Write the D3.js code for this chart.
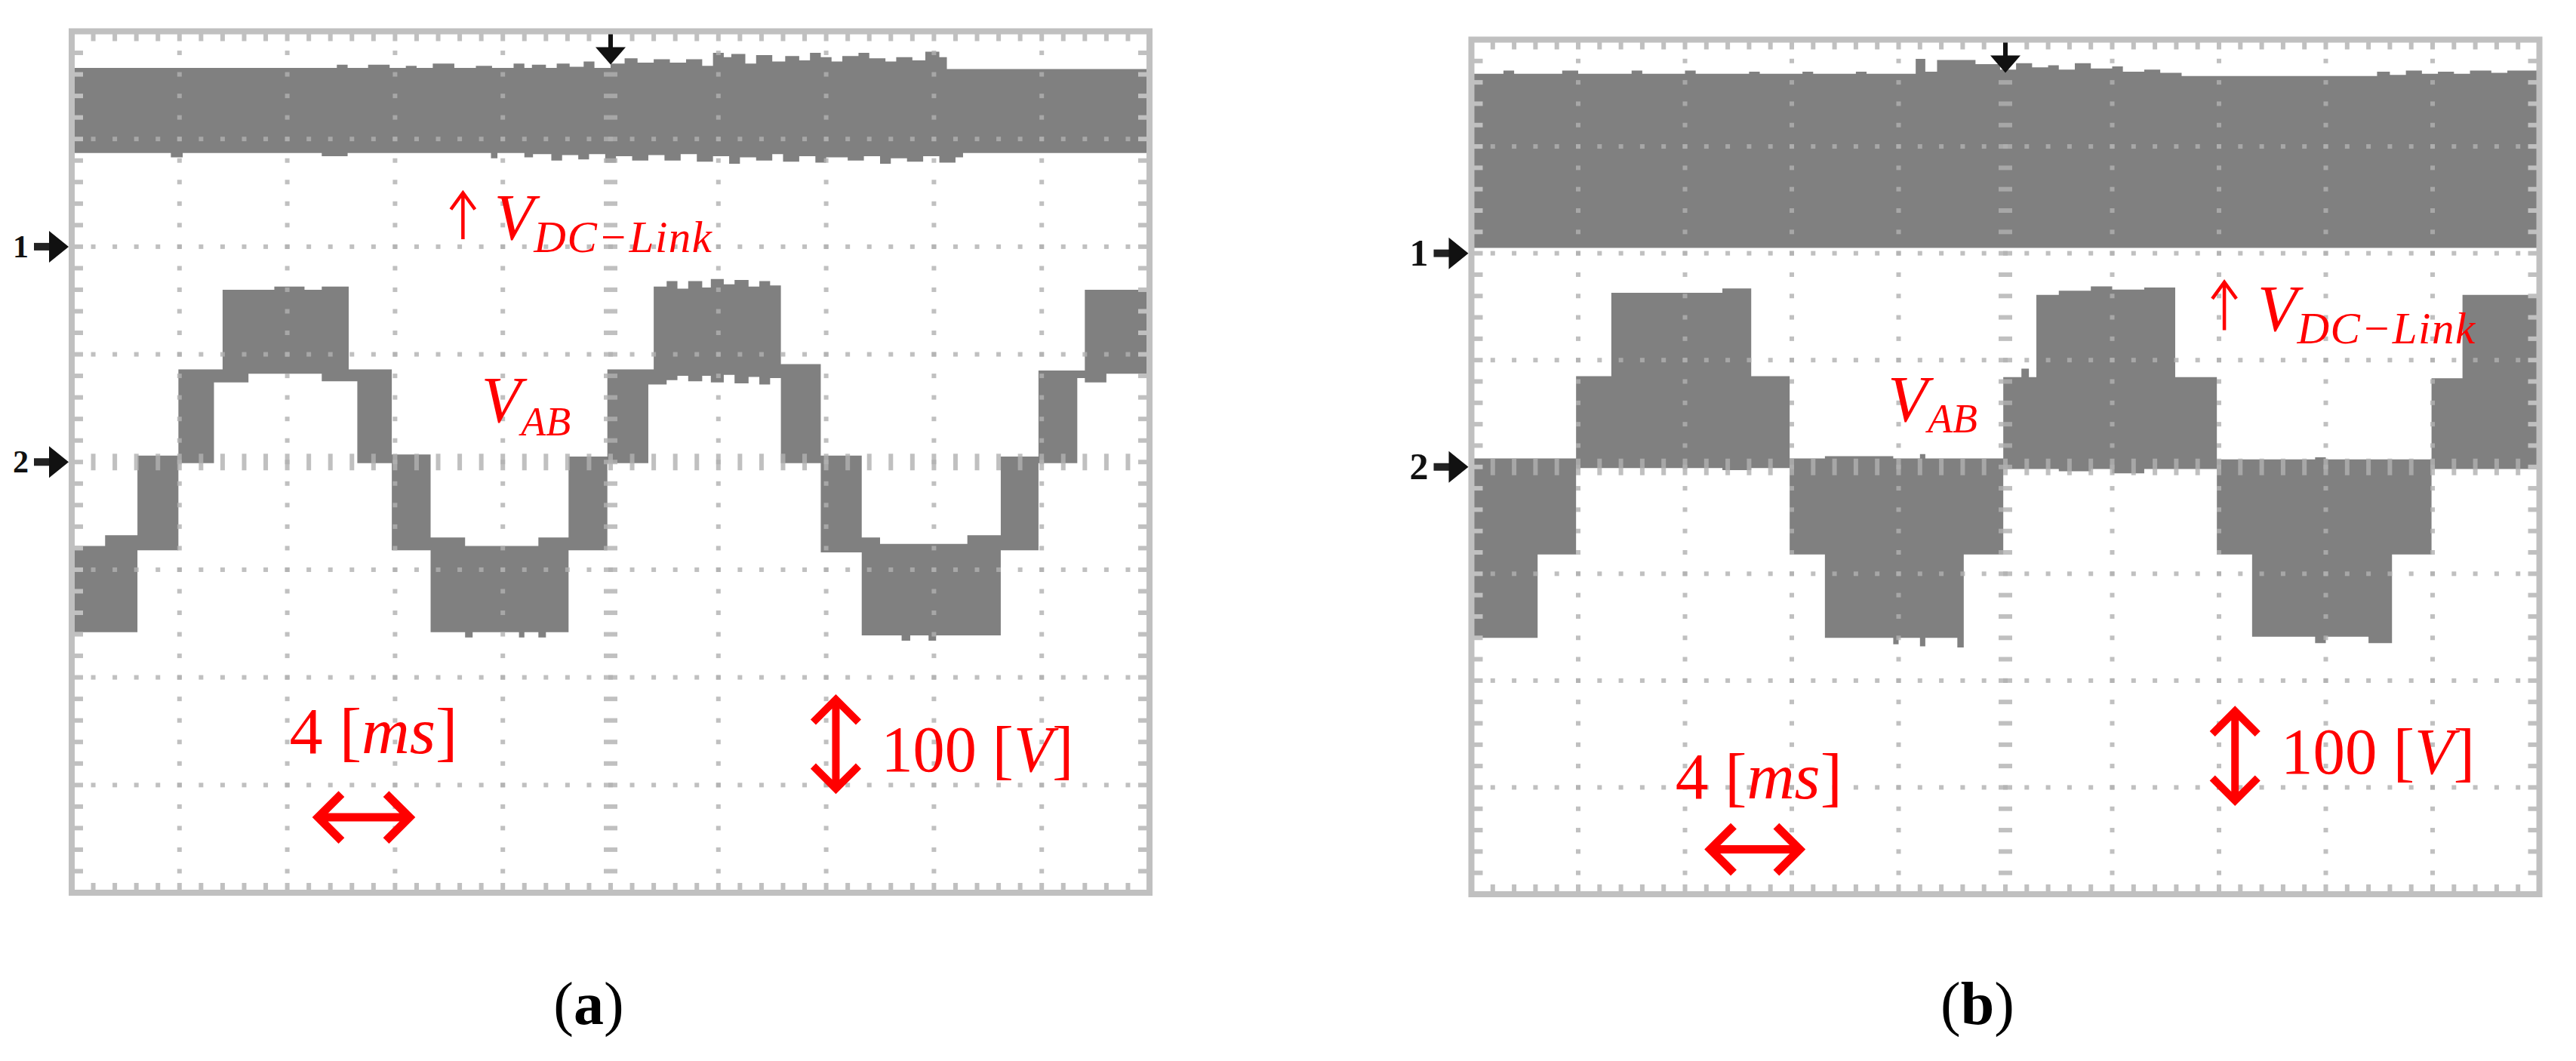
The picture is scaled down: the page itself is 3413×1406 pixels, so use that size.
<!DOCTYPE html>
<html><head><meta charset="utf-8">
<script src="https://cdn.jsdelivr.net/npm/d3@7"></script>
<style>body{margin:0;background:#fff}svg{display:block}</style>
</head><body>
<svg id="chart" width="3413" height="1406"></svg>
<script>
// ---------- DATA (time in ms, 4 ms/div; voltage in V, 100 V/div) ----------
const timeDomain = [0, 40];
const voltDomain = [-400, 400];
const captions = ["a", "b"];
const channelLabels = ["1", "2"];
const channelGround = [200, 0];     // screen offset of ch1 / ch2 ground (V)

// Panel (a): DC-link (ch1), top and bottom envelopes
const dcA_topT = [0,9.84,10.24,11,11.8,12.4,12.8,13.4,14.2,15,15.6,16.4,16.8,17.08,17.6,18,18.48,19,19.4,20,20.52,21,21.6,22.2,22.8,23.4,23.8,24.2,24.48,25,25.4,26,26.48,27,27.4,27.8,28.2,28.6,29.2,29.6,30.2,30.6,31.2,31.68,32.2,32.48];
const dcA_top  = [166,169,166,169,166,168,166,170,166,168,166,170,166,169,166,170,167,172,166,170,175,171,174,171,174,168,180,176,179,170,178,172,177,173,180,176,172,177,180,175,172,176,173,181,176,165];
const dcA_botT = [0,3.68,4.12,9.28,10.24,15.56,15.8,16.8,17.12,17.8,18.2,18.8,19.2,19.8,20.2,20.8,21.4,22,22.6,23.2,23.8,24.4,24.8,25.4,26,26.4,27,27.6,28,28.8,29.4,30,30.4,31,31.6,32.2,32.8,33.08];
const dcA_bot  = [87,83,87,84,87,82,87,83,86,80,85,81,86,78,84,80,85,80,86,79,84,77,83,80,86,79,84,78,83,80,84,77,82,79,84,78,83,87];

// Panel (a): V_AB (ch2), band upper / lower limits
const vabA_t  = [0,1.24,2.44,3.96,5.28,5.6,6.56,7.52,8.64,9.28,10.28,10.6,11.88,13.32,14.6,14.88,16.6,16.8,17.32,17.6,18.44,19.88,21.4,21.6,22.08,22.48,22.88,23.4,23.72,24.2,24.6,25.12,25.52,25.92,26.32,27.8,29.32,30,30.8,31.12,31.8,32.08,33.24,34.48,35.88,37.32,37.6,38.4];
const vabA_hi = [-78,-68,6,86,86,160,160,163,160,163,86,86,7,-70,-78,-78,-78,-78,-70,-70,5,86,86,163,168,161,168,162,170,165,169,163,168,164,91,6,-70,-76,-76,-76,-76,-76,-68,5,85,85,160,160];
const vabA_lo = [-158,-158,-82,-1,74,74,82,82,82,75,75,-1,-82,-158,-163,-158,-163,-158,-163,-158,-82,-1,72,72,76,80,75,80,74,81,73,79,72,78,-1,-84,-161,-161,-166,-161,-166,-161,-161,-82,-1,78,74,82];

// Panel (b): DC-link (ch1)
const dcB_topT = [0,1.2,1.6,3.4,4,6,6.4,8,8.4,10.4,10.8,12.4,12.8,14.4,14.8,16.64,17,17.44,18.88,19.8,20.4,21,21.6,22,22.6,23.2,24,24.4,25.2,25.8,26.6,33.92,34.4,35,35.6,36.2,36.8,37.4,38.2,38.8];
const dcB_top  = [168,171,168,171,168,171,168,171,168,170,168,170,168,170,168,182,170,181,177,172,178,174,176,172,178,173,175,170,172,169,166,170,167,171,168,170,168,171,169,171];
const dcB_botT = [0];
const dcB_bot  = [5];

// Panel (b): V_AB (ch2)
const vabB_t  = [0,2.48,3.92,5.24,9.4,10.48,11.92,13.24,15.8,16,16.8,17,18.2,18.44,19.92,20.6,20.88,21.16,22,23.2,24,25.2,26.36,27.92,29.24,31.6,32,33.6,34.48,35.96,37.12];
const vabB_hi = [8,8,85,163,167,85,8,10,8,8,12,8,8,8,84,92,84,161,165,169,166,168,84,7,7,9,7,7,7,83,161];
const vabB_lo = [-160,-82,-1,-1,-3,-1,-82,-160,-166,-160,-168,-160,-169,-82,-2,-2,-2,-2,-4,-2,-6,-2,-2,-82,-159,-165,-159,-165,-82,-2,-2];

// ---------- LAYOUT ----------
const panels = [
  {x0: 95, x1: 1523, y0: 41.5, y1: 1183, cap: captions[0], capX: 780, capY: 1357, mk: 42,
   dc: [dcA_topT, dcA_top, dcA_botT, dcA_bot], vab: [vabA_t, vabA_hi, vabA_lo],
   ann: {dcArrow:[3.63,1.50,1.93], dcV:[3.92,1.93,2.05], abV:[3.80,3.63,3.75],
         ms:[2.02,6.70,223], h:[2.23,3.19,7.30], v:[7.09,6.15,7.09], volt:[7.51,6.87,255]}},
  {x0: 1949.5, x1: 3364.5, y0: 52.5, y1: 1185, cap: captions[1], capX: 2620, capY: 1357, mk: 50,
   dc: [dcB_topT, dcB_top, dcB_botT, dcB_bot], vab: [vabB_t, vabB_hi, vabB_lo],
   ann: {dcArrow:[7.05,2.27,2.72], dcV:[7.36,2.72,2.84], abV:[3.90,3.57,3.68],
         ms:[1.91,7.10,221], h:[2.18,3.13,7.58], v:[7.15,6.23,7.18], volt:[7.58,6.87,257]}}
];

const svg = d3.select("#chart");
svg.append("rect").attr("width", 3413).attr("height", 1406).attr("fill", "#fff");
const RED = "#ff0000", WAVE = "#808080", FRAME = "#c0c0c0";
const SERIF = "'Liberation Serif','Times New Roman',serif";

panels.forEach(p => {
  const x = d3.scaleLinear().domain(timeDomain).range([p.x0, p.x1]);
  const y = d3.scaleLinear().domain(voltDomain).range([p.y1, p.y0]);
  const ax = d => x(d * 4), ay = d => y(400 - d * 100);
  const g = svg.append("g");
  const tEnd = timeDomain[1];

  // --- DC-link band (ch1) ---
  const [tT, vT, tB, vB] = p.dc;
  const off1 = channelGround[0];
  const top = tT.map((t, i) => [x(t), y(vT[i] + off1)]); top.push([x(tEnd), y(vT[vT.length - 1] + off1)]);
  const bot = tB.map((t, i) => [x(t), y(vB[i] + off1)]); bot.push([x(tEnd), y(vB[vB.length - 1] + off1)]);
  const lt = d3.line().curve(d3.curveStepAfter)(top);
  const lb = d3.line().curve(d3.curveStepBefore)(bot.slice().reverse());
  g.append("path").attr("d", lt + "L" + lb.slice(1) + "Z").attr("fill", WAVE);

  // --- V_AB band (ch2) ---
  const [vt, vh, vl] = p.vab;
  const off2 = channelGround[1];
  const rows = vt.map((t, i) => ({t, hi: vh[i] + off2, lo: vl[i] + off2}));
  rows.push({t: tEnd, hi: rows[rows.length - 1].hi, lo: rows[rows.length - 1].lo});
  g.append("path").attr("fill", WAVE)
    .attr("d", d3.area().curve(d3.curveStepAfter).x(d => x(d.t)).y0(d => y(d.lo)).y1(d => y(d.hi))(rows));

  // --- graticule ---
  const grid = g.append("g").attr("fill", "#b0b0b0").attr("fill-opacity", 0.8);
  const minorT = d3.range(1, 50).map(j => j * 0.8);       // 0.2 div in ms
  const minorV = d3.range(1, 40).map(j => -400 + j * 20); // 0.2 div in V
  for (let i = 1; i < 10; i++) {
    const cx = x(i * 4), center = i === 5;
    minorV.forEach(v => grid.append("rect")
      .attr("x", cx - (center ? 9 : 3)).attr("y", y(v) - 3).attr("width", center ? 18 : 6).attr("height", 6));
  }
  for (let k = 1; k < 8; k++) {
    const cy = y(400 - k * 100), center = k === 4;
    minorT.forEach(t => grid.append("rect")
      .attr("x", x(t) - 3).attr("y", cy - (center ? 11 : 3)).attr("width", 6).attr("height", center ? 22 : 6));
  }
  const ticks = g.append("g").attr("fill", FRAME);
  minorT.forEach(t => {
    ticks.append("rect").attr("x", x(t) - 3).attr("y", p.y0).attr("width", 6).attr("height", 13);
    ticks.append("rect").attr("x", x(t) - 3).attr("y", p.y1 - 13).attr("width", 6).attr("height", 13);
  });
  minorV.forEach(v => {
    ticks.append("rect").attr("x", p.x0).attr("y", y(v) - 3).attr("width", 15).attr("height", 6);
    ticks.append("rect").attr("x", p.x1 - 15).attr("y", y(v) - 3).attr("width", 15).attr("height", 6);
  });
  g.append("rect").attr("x", p.x0).attr("y", p.y0).attr("width", p.x1 - p.x0).attr("height", p.y1 - p.y0)
    .attr("fill", "none").attr("stroke", FRAME).attr("stroke-width", 8);

  // --- trigger marker ---
  const tx = x(20);
  g.append("rect").attr("x", tx - 3).attr("y", p.y0 + 4).attr("width", 6).attr("height", 24).attr("fill", "#111");
  g.append("path").attr("d", `M${tx - 20},${p.y0 + 21}L${tx + 20},${p.y0 + 21}L${tx},${p.y0 + 44}Z`).attr("fill", "#111");

  // --- channel markers ---
  channelGround.forEach((gv, ci) => {
    const cy = y(gv);
    g.append("text").attr("x", p.x0 - 57).attr("y", cy + p.mk * 0.33).attr("text-anchor", "end")
      .attr("font-family", SERIF).attr("font-weight", "bold").attr("font-size", p.mk).attr("fill", "#111")
      .text(channelLabels[ci]);
    g.append("rect").attr("x", p.x0 - 50).attr("y", cy - 5).attr("width", 26).attr("height", 10).attr("fill", "#222");
    g.append("path").attr("d", `M${p.x0 - 30},${cy - 21}L${p.x0 - 4},${cy}L${p.x0 - 30},${cy + 21}Z`).attr("fill", "#111");
  });

  // --- annotations ---
  const A = p.ann;
  const red = g.append("g").attr("fill", RED).attr("font-family", SERIF);
  // thin up arrow
  {
    const [dx, da, db] = A.dcArrow, X = ax(dx), Y0 = ay(da), Y1 = ay(db);
    red.append("path").attr("d", `M${X},${Y1}L${X},${Y0 + 3}M${X - 16},${Y0 + 22}L${X},${Y0}L${X + 16},${Y0 + 22}`)
      .attr("fill", "none").attr("stroke", RED).attr("stroke-width", 4.5);
  }
  // V_{DC-Link}: one text element, subscript as a lowered tspan
  {
    const [dx, b1, b2] = A.dcV;
    const t = red.append("text").attr("x", ax(dx)).attr("y", ay(b1)).attr("font-style", "italic");
    t.append("tspan").attr("font-size", 86).text("V");
    t.append("tspan").attr("font-size", 59).attr("dy", ay(b2) - ay(b1)).attr("letter-spacing", 1.5).text("DC\u2212Link");
  }
  {
    const [dx, b1, b2] = A.abV;
    const t = red.append("text").attr("x", ax(dx)).attr("y", ay(b1)).attr("font-style", "italic");
    t.append("tspan").attr("font-size", 86).text("V");
    t.append("tspan").attr("font-size", 54).attr("dy", ay(b2) - ay(b1)).text("AB");
  }

  const ms = red.append("text").attr("x", ax(A.ms[0])).attr("y", ay(A.ms[1])).attr("font-size", 86)
    .attr("textLength", A.ms[2]).attr("lengthAdjust", "spacingAndGlyphs");
  ms.append("tspan").text("4 [");
  ms.append("tspan").attr("font-style", "italic").text("ms");
  ms.append("tspan").text("]");
  const vt2 = red.append("text").attr("x", ax(A.volt[0])).attr("y", ay(A.volt[1])).attr("font-size", 86)
    .attr("textLength", A.volt[2]).attr("lengthAdjust", "spacingAndGlyphs");
  vt2.append("tspan").text("100 [");
  vt2.append("tspan").attr("font-style", "italic").text("V");
  vt2.append("tspan").text("]");

  // heavy double arrows
  {
    const xa = ax(A.h[0]) + 8, xb = ax(A.h[1]) - 8, yc = ay(A.h[2]), h = 31;
    red.append("path").attr("fill", "none").attr("stroke", RED).attr("stroke-width", 11)
      .attr("stroke-linejoin", "miter").attr("stroke-miterlimit", 10)
      .attr("d", `M${xa + 4},${yc}L${xb - 4},${yc}M${xa + h},${yc - h}L${xa},${yc}L${xa + h},${yc + h}M${xb - h},${yc - h}L${xb},${yc}L${xb - h},${yc + h}`);
  }
  {
    const xc = ax(A.v[0]), ya = ay(A.v[1]) + 8, yb = ay(A.v[2]) - 8, h = 30;
    red.append("path").attr("fill", "none").attr("stroke", RED).attr("stroke-width", 10)
      .attr("stroke-linejoin", "miter").attr("stroke-miterlimit", 10)
      .attr("d", `M${xc},${ya + 4}L${xc},${yb - 4}M${xc - h},${ya + h}L${xc},${ya}L${xc + h},${ya + h}M${xc - h},${yb - h}L${xc},${yb}L${xc + h},${yb - h}`);
  }

  // --- caption ---
  const cap = svg.append("text").attr("x", p.capX).attr("y", p.capY).attr("text-anchor", "middle")
    .attr("font-family", SERIF).attr("font-size", 80).attr("fill", "#000");
  cap.append("tspan").text("(");
  cap.append("tspan").attr("font-weight", "bold").text(p.cap);
  cap.append("tspan").text(")");
});
</script>
</body></html>
